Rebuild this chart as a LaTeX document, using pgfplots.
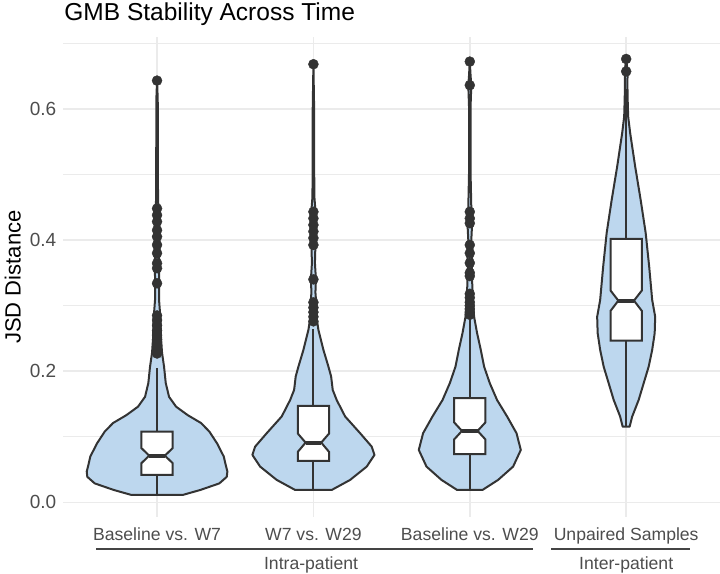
\documentclass[border=0pt]{standalone}
\usepackage{fontspec}
\setmainfont{Liberation Sans}
\usepackage{pgfplots}
\pgfplotsset{compat=1.18}
\usepgfplotslibrary{fillbetween}
\usepackage{pgfplotstable}
\definecolor{vfill}{HTML}{BDD7EE}
\definecolor{vline}{HTML}{333333}
\definecolor{gridc}{HTML}{EBEBEB}
\definecolor{txt}{HTML}{4D4D4D}
\definecolor{brk}{HTML}{444444}

% violin outlines: v = value, w = half width (px)
\pgfplotstableread{
v w
0.0114 25.7
0.019 43.3
0.029 62.3
0.039 69.7
0.047 70.3
0.058 68.5
0.070 66.7
0.090 60
0.108 52.3
0.121 44
0.133 30.7
0.146 19
0.161 12
0.182 8.7
0.207 7
0.228 5
0.250 4
0.278 3.5
0.309 2
0.339 2
0.370 2.2
0.400 2.2
0.438 2.2
0.460 1
0.537 0.8
0.614 0.7
0.643 0
}\vA
\pgfplotstableread{
v w
0.019 18.3
0.0343 36.7
0.0546 53.3
0.0724 61
0.085 58.3
0.1055 46.7
0.131 31.7
0.156 23.3
0.1715 19.3
0.192 17.7
0.207 15
0.2325 10
0.263 5
0.278 3.5
0.300 3
0.320 2
0.340 2.5
0.365 1.5
0.392 2
0.420 2.5
0.445 2
0.465 1
0.50 0.8
0.60 0.7
0.668 0
}\vB
\pgfplotstableread{
v w
0.019 12.7
0.0343 28.3
0.0546 43.3
0.080 51
0.1055 46.7
0.131 37.3
0.156 27.3
0.1817 20
0.207 14.3
0.2325 11
0.258 7.3
0.283 4.3
0.300 3.5
0.33 2.5
0.36 2
0.38 2.5
0.40 1.5
0.43 2.5
0.45 1.5
0.50 0.8
0.60 0.7
0.636 1.5
0.65 0.8
0.672 0
}\vC
\pgfplotstableread{
v w
0.1155 3.5
0.1308 6
0.1563 12.5
0.1817 17.5
0.207 22.5
0.2325 26
0.258 28.5
0.283 29
0.3087 26
0.3595 23
0.4108 19.5
0.461 14.5
0.512 9
0.563 4
0.588 2
0.614 1.5
0.64 1.2
0.657 1.5
0.676 0
}\vD

\begin{document}
\begin{tikzpicture}
\begin{axis}[
  at={(0,0)}, anchor=south west,
  scale only axis, width=656.6pt, height=479.4pt,
  xmin=0.4, xmax=4.6, ymin=-0.022, ymax=0.709,
  xtick={1,2,3,4},
  xticklabels={Baseline vs. W7, W7 vs. W29, Baseline vs. W29, Unpaired Samples},
  ytick={0,0.2,0.4,0.6},
  minor ytick={0.1,0.3,0.5,0.7},
  xmajorgrids, ymajorgrids, yminorgrids,
  major grid style={gridc, line width=1.6pt},
  minor grid style={gridc, line width=1pt},
  axis line style={draw=none},
  tick style={draw=none},
  major tick length=0pt, minor tick length=0pt,
  clip=false,
  /pgf/number format/assume math mode=true,
  ticklabel style={text=txt},
  xticklabel style={font=\fontsize{17.6}{20}\selectfont, anchor=base, yshift=-24pt},
  yticklabel style={font=\fontsize{19}{22}\selectfont, /pgf/number format/fixed, /pgf/number format/fixed zerofill, /pgf/number format/precision=1, xshift=-3.5pt},
]
% violins
\addplot[draw=none, name path=R1] table[x expr=1+\thisrow{w}/156.33, y=v] {\vA};
\addplot[draw=none, name path=L1] table[x expr=1-\thisrow{w}/156.33, y=v] {\vA};
\addplot[fill=vfill, draw=vline, line width=2pt, line join=round] fill between[of=R1 and L1, reverse=true];
\addplot[draw=none, name path=R2] table[x expr=2+\thisrow{w}/156.33, y=v] {\vB};
\addplot[draw=none, name path=L2] table[x expr=2-\thisrow{w}/156.33, y=v] {\vB};
\addplot[fill=vfill, draw=vline, line width=2pt, line join=round] fill between[of=R2 and L2, reverse=true];
\addplot[draw=none, name path=R3] table[x expr=3+\thisrow{w}/156.33, y=v] {\vC};
\addplot[draw=none, name path=L3] table[x expr=3-\thisrow{w}/156.33, y=v] {\vC};
\addplot[fill=vfill, draw=vline, line width=2pt, line join=round] fill between[of=R3 and L3, reverse=true];
\addplot[draw=none, name path=R4] table[x expr=4+\thisrow{w}/156.33, y=v] {\vD};
\addplot[draw=none, name path=L4] table[x expr=4-\thisrow{w}/156.33, y=v] {\vD};
\addplot[fill=vfill, draw=vline, line width=2pt, line join=round] fill between[of=R4 and L4, reverse=true];

% whiskers
\addplot[vline, line width=2pt] coordinates {(1,0.0114) (1,0.0419)};
\addplot[vline, line width=2pt] coordinates {(1,0.108) (1,0.205)};
\addplot[vline, line width=2pt] coordinates {(2,0.019) (2,0.0633)};
\addplot[vline, line width=2pt] coordinates {(2,0.147) (2,0.2645)};
\addplot[vline, line width=2pt] coordinates {(3,0.019) (3,0.0735)};
\addplot[vline, line width=2pt] coordinates {(3,0.1588) (3,0.281)};
\addplot[vline, line width=2pt] coordinates {(4,0.1155) (4,0.2466)};
\addplot[vline, line width=2pt] coordinates {(4,0.4017) (4,0.63)};

% notched boxes
\addplot[fill=white, draw=vline, line width=2pt] coordinates {(0.9,0.0419) (1.1,0.0419) (1.1,0.0598) (1.05,0.0713) (1.1,0.0828) (1.1,0.108) (0.9,0.108) (0.9,0.0828) (0.95,0.0713) (0.9,0.0598)} -- cycle;
\addplot[vline, line width=4pt] coordinates {(0.95,0.0713) (1.05,0.0713)};
\addplot[fill=white, draw=vline, line width=2pt] coordinates {(1.9,0.0633) (2.1,0.0633) (2.1,0.077) (2.05,0.0912) (2.1,0.105) (2.1,0.147) (1.9,0.147) (1.9,0.105) (1.95,0.0912) (1.9,0.077)} -- cycle;
\addplot[vline, line width=4pt] coordinates {(1.95,0.0912) (2.05,0.0912)};
\addplot[fill=white, draw=vline, line width=2pt] coordinates {(2.9,0.0735) (3.1,0.0735) (3.1,0.096) (3.05,0.109) (3.1,0.122) (3.1,0.1588) (2.9,0.1588) (2.9,0.122) (2.95,0.109) (2.9,0.096)} -- cycle;
\addplot[vline, line width=4pt] coordinates {(2.95,0.109) (3.05,0.109)};
\addplot[fill=white, draw=vline, line width=2pt] coordinates {(3.9,0.2466) (4.1,0.2466) (4.1,0.292) (4.05,0.3076) (4.1,0.323) (4.1,0.4017) (3.9,0.4017) (3.9,0.323) (3.95,0.3076) (3.9,0.292)} -- cycle;
\addplot[vline, line width=4pt] coordinates {(3.95,0.3076) (4.05,0.3076)};

% outliers
\addplot[only marks, mark=*, mark size=5pt, mark options={fill=vline, draw=vline}] coordinates {
(1,0.643) (1,0.448) (1,0.438) (1,0.428) (1,0.415) (1,0.405) (1,0.3925) (1,0.380) (1,0.3646) (1,0.357) (1,0.334)
(1,0.285) (1,0.278) (1,0.270) (1,0.262) (1,0.255) (1,0.248) (1,0.240) (1,0.233) (1,0.227)
(2,0.668) (2,0.443) (2,0.433) (2,0.423) (2,0.413) (2,0.403) (2,0.3925) (2,0.340) (2,0.305) (2,0.297) (2,0.290) (2,0.283) (2,0.276)
(3,0.672) (3,0.636) (3,0.443) (3,0.433) (3,0.4256) (3,0.3925) (3,0.380) (3,0.365) (3,0.35) (3,0.345) (3,0.318) (3,0.312) (3,0.305) (3,0.300) (3,0.295) (3,0.290) (3,0.286)
(4,0.676) (4,0.657)
};

% group brackets
\draw[brk, line width=2pt] ([yshift=-32.6pt]axis cs:0.61,-0.022) -- ([yshift=-32.6pt]axis cs:3.406,-0.022);
\draw[brk, line width=2pt] ([yshift=-32.6pt]axis cs:3.52,-0.022) -- ([yshift=-32.6pt]axis cs:4.41,-0.022);
\node[anchor=base, inner sep=0, font=\fontsize{17.6}{20}\selectfont, text=txt] at ([yshift=-52.6pt]axis cs:1.985,-0.022) {Intra-patient};
\node[anchor=base, inner sep=0, font=\fontsize{17.6}{20}\selectfont, text=txt] at ([yshift=-52.6pt]axis cs:4,-0.022) {Inter-patient};

% title and y label
\node[anchor=base west, inner sep=0, font=\fontsize{24.5}{28}\selectfont] at ([yshift=17.3pt, xshift=1pt]rel axis cs:0,1) {GMB Stability Across Time};
\node[rotate=90, anchor=center, inner sep=0, font=\fontsize{22}{26}\selectfont] at ([xshift=-50.4pt]rel axis cs:0,0.5) {JSD Distance};
\end{axis}
\pgfresetboundingbox
\useasboundingbox (-63.2pt,-56.3pt) rectangle (656.6pt,516.7pt);
\end{tikzpicture}
\end{document}
